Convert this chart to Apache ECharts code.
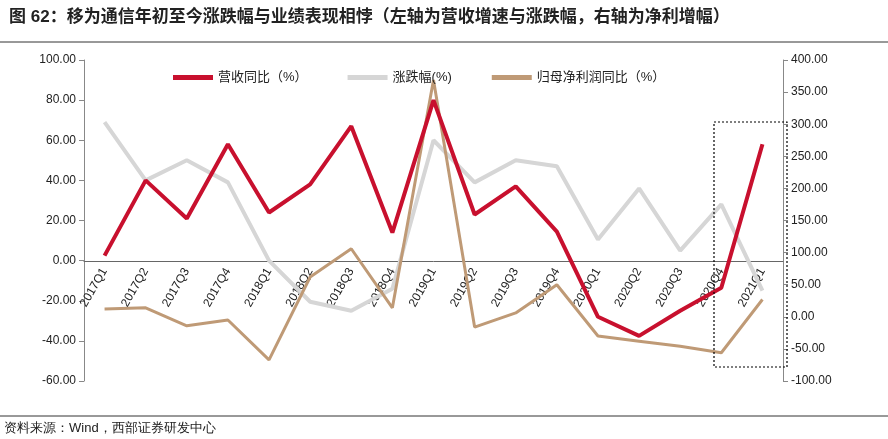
<!DOCTYPE html>
<html><head><meta charset="utf-8">
<script src="https://cdn.jsdelivr.net/npm/echarts@6/dist/echarts.min.js"></script>
<style>body{margin:0;background:#fff}#c{width:888px;height:439px}</style>
</head><body><div id="c"></div>
<script>
var categories = ['2017Q1','2017Q2','2017Q3','2017Q4','2018Q1','2018Q2','2018Q3','2018Q4','2019Q1','2019Q2','2019Q3','2019Q4','2020Q1','2020Q2','2020Q3','2020Q4','2021Q1'];
var revenueYoy = [2.5, 40, 21, 58, 24, 38, 67, 14, 80, 23, 37, 14.5, -28, -37.5, -25, -13.5, 58];
var priceChange = [69, 40, 50, 39, 0, -20.5, -25, -14, 60, 39, 50, 47, 10.5, 36, 5, 28, -15];
var profitYoy = [12, 14, -14, -5, -67, 62, 106, 14, 369, -16, 6, 50, -30, -38, -46, -56, 27];

var chart = echarts.init(document.getElementById('c'));
var font = "'Liberation Sans', 'Noto Sans CJK SC', sans-serif";
chart.setOption({
  textStyle: {fontFamily: font},
  title: {
    text: '图 62：移为通信年初至今涨跌幅与业绩表现相悖（左轴为营收增速与涨跌幅，右轴为净利增幅）',
    left: 4, top: 4,
    textStyle: {fontSize: 17, fontWeight: 'bold', color: '#222', fontFamily: font}
  },
  legend: {
    top: 66, left: 168, itemGap: 40, itemWidth: 40, itemHeight: 5,
    icon: 'rect',
    textStyle: {fontSize: 13, color: '#222'},
    data: ['营收同比（%）', '涨跌幅(%)', '归母净利润同比（%）']
  },
  grid: {left: 84, right: 105, top: 60, bottom: 58},
  graphic: [
    {type: 'line', shape: {x1: 0, y1: 42, x2: 888, y2: 42}, style: {stroke: '#333', lineWidth: 1}},
    {type: 'line', shape: {x1: 0, y1: 416, x2: 888, y2: 416}, style: {stroke: '#333', lineWidth: 1}},
    {type: 'text', left: 4, top: 422, style: {text: '资料来源：Wind，西部证券研发中心', fontSize: 13, fill: '#222', font: '13px ' + font}},
    {type: 'rect', shape: {x: 714, y: 122, width: 73, height: 245}, style: {fill: 'none', stroke: '#000', lineWidth: 1.2, lineDash: [2, 2]}, z: 10}
  ],
  xAxis: {
    type: 'category', data: categories,
    offset: -120,
    axisLine: {onZero: false, lineStyle: {color: '#666'}},
    axisTick: {inside: true, lineStyle: {color: '#666'}},
    axisLabel: {rotate: 60, color: '#222', fontSize: 12, margin: 8}
  },
  yAxis: [
    {type: 'value', min: -60, max: 100, interval: 20, splitLine: {show: false},
     axisLine: {show: true, lineStyle: {color: '#888'}}, axisTick: {show: true},
     axisLabel: {formatter: function (v) { return v.toFixed(2); }, color: '#222', fontSize: 12}},
    {type: 'value', min: -100, max: 400, interval: 50, splitLine: {show: false},
     axisLine: {show: true, lineStyle: {color: '#888'}}, axisTick: {show: true},
     axisLabel: {formatter: function (v) { return v.toFixed(2); }, color: '#222', fontSize: 12}}
  ],
  series: [
    {name: '营收同比（%）', type: 'line', data: revenueYoy, yAxisIndex: 0, symbol: 'none',
     lineStyle: {width: 4, color: '#c8102e'}, itemStyle: {color: '#c8102e'}, z: 3},
    {name: '涨跌幅(%)', type: 'line', data: priceChange, yAxisIndex: 0, symbol: 'none',
     lineStyle: {width: 4, color: '#d6d6d6'}, itemStyle: {color: '#d6d6d6'}, z: 1},
    {name: '归母净利润同比（%）', type: 'line', data: profitYoy, yAxisIndex: 1, symbol: 'none',
     lineStyle: {width: 3, color: '#bf9a76'}, itemStyle: {color: '#bf9a76'}, z: 2}
  ]
});
</script></body></html>
